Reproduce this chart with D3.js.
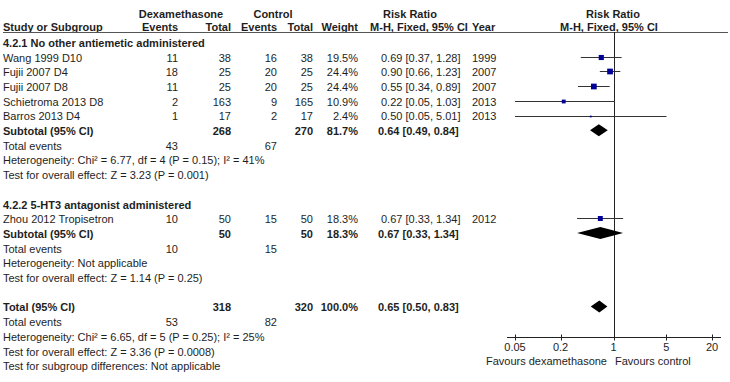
<!DOCTYPE html>
<html>
<head>
<meta charset="utf-8">
<script src="https://cdn.jsdelivr.net/npm/d3@7"></script>
<style>
  body { margin: 0; background: #fff; }
  text { font-family: "Liberation Sans", Arial, sans-serif; font-size: 11px; fill: #1e1e1e; }
  .b { font-weight: bold; }
</style>
</head>
<body>
<div id="chart"></div>
<script>
// study data
var studies    = ["Wang 1999 D10", "Fujii 2007 D4", "Fujii 2007 D8", "Schietroma 2013 D8", "Barros 2013 D4", "Zhou 2012 Tropisetron"];
var dexEvents  = [11, 18, 11, 2, 1, 10];
var dexTotal   = [38, 25, 25, 163, 17, 50];
var ctlEvents  = [16, 20, 20, 9, 2, 15];
var ctlTotal   = [38, 25, 25, 165, 17, 50];
var weights    = [19.5, 24.4, 24.4, 10.9, 2.4, 18.3];
var rr         = [0.69, 0.90, 0.55, 0.22, 0.50, 0.67];
var rrLo       = [0.37, 0.66, 0.34, 0.05, 0.05, 0.33];
var rrHi       = [1.28, 1.23, 0.89, 1.03, 5.01, 1.34];
var years      = [1999, 2007, 2007, 2013, 2013, 2012];
var groupOf    = [0, 0, 0, 0, 0, 1];

// subgroups
var groupTitles   = ["4.2.1 No other antiemetic administered", "4.2.2 5-HT3 antagonist administered"];
var groupDexTotal = [268, 50];
var groupCtlTotal = [270, 50];
var groupWeight   = ["81.7%", "18.3%"];
var groupRR       = [0.64, 0.67];
var groupLo       = [0.49, 0.33];
var groupHi       = [0.84, 1.34];
var groupDexEv    = [43, 10];
var groupCtlEv    = [67, 15];
var groupHet      = ["Heterogeneity: Chi\u00b2 = 6.77, df = 4 (P = 0.15); I\u00b2 = 41%", "Heterogeneity: Not applicable"];
var groupTest     = ["Test for overall effect: Z = 3.23 (P = 0.001)", "Test for overall effect: Z = 1.14 (P = 0.25)"];

// overall
var totalRR = 0.65, totalLo = 0.50, totalHi = 0.83;
var totalDex = 318, totalCtl = 320, totalDexEv = 53, totalCtlEv = 82;
var totalHet = "Heterogeneity: Chi\u00b2 = 6.65, df = 5 (P = 0.25); I\u00b2 = 25%";
var totalTest = "Test for overall effect: Z = 3.36 (P = 0.0008)";
var subgroupTest = "Test for subgroup differences: Not applicable";

var axisTicks = [0.05, 0.2, 1, 5, 20];

var width = 730, height = 382;
var svg = d3.select("#chart").append("svg").attr("width", width).attr("height", height);

// column anchors
var col = { name: 3, dexEv: 178, dexTot: 231, ctlEv: 277, ctlTot: 313, weight: 358, ci: 381, year: 472 };

// row positions (row index -> y)
var pitch = 14.7;
var y = function (i) { return 43 + i * pitch; };

var x = d3.scaleLog().domain([0.05, 20]).range([515, 712]);
var boxSize = d3.scaleSqrt().domain([0, 25]).range([0, 5.8]);

function fmt(v) { return v.toFixed(2); }
function ciText(m, l, h) { return fmt(m) + " [" + fmt(l) + ", " + fmt(h) + "]"; }

function txt(xp, yp, s, anchor, bold) {
    return svg.append("text")
        .attr("x", xp).attr("y", yp)
        .attr("dy", "0.35em")
        .attr("text-anchor", anchor || "start")
        .attr("class", bold ? "b" : null)
        .text(s);
}

function diamond(yp, m, l, h) {
    var hh = 6;
    svg.append("path")
        .attr("d", "M" + x(l) + "," + yp + "L" + x(m) + "," + (yp - hh) + "L" + x(h) + "," + yp + "L" + x(m) + "," + (yp + hh) + "Z")
        .style("fill", "#000");
}

// header
txt(181, 14, "Dexamethasone", "middle", true);
txt(273, 14, "Control", "middle", true);
txt(410, 14, "Risk Ratio", "middle", true);
txt(613, 14, "Risk Ratio", "middle", true);
txt(col.name, 27, "Study or Subgroup", "start", true);
txt(col.dexEv, 27, "Events", "end", true);
txt(col.dexTot, 27, "Total", "end", true);
txt(col.ctlEv, 27, "Events", "end", true);
txt(col.ctlTot, 27, "Total", "end", true);
txt(col.weight, 27, "Weight", "end", true);
txt(419, 27, "M-H, Fixed, 95% CI", "middle", true);
txt(col.year, 27, "Year", "start", true);
txt(609, 27, "M-H, Fixed, 95% CI", "middle", true);

svg.append("line")
    .attr("x1", 3).attr("x2", 728).attr("y1", 32.5).attr("y2", 32.5)
    .style("stroke", "#555").style("stroke-width", 1);

// line of no effect
svg.append("line")
    .attr("x1", Math.round(x(1)) + 0.5).attr("x2", Math.round(x(1)) + 0.5)
    .attr("y1", 32).attr("y2", 337)
    .style("stroke", "#222").style("stroke-width", 1);

// build the rows for each subgroup
var row = -1;
groupTitles.forEach(function (title, g) {
    if (g > 0) row += 1;   // blank row between subgroups
    row += 1;
    txt(col.name, y(row), title, "start", true);
    studies.forEach(function (s, i) {
        if (groupOf[i] != g) return;
        row += 1;
        var yy = y(row);
        txt(col.name, yy, s);
        txt(col.dexEv, yy, dexEvents[i], "end");
        txt(col.dexTot, yy, dexTotal[i], "end");
        txt(col.ctlEv, yy, ctlEvents[i], "end");
        txt(col.ctlTot, yy, ctlTotal[i], "end");
        txt(col.weight, yy, weights[i].toFixed(1) + "%", "end");
        txt(col.ci, yy, ciText(rr[i], rrLo[i], rrHi[i]));
        txt(col.year, yy, years[i]);

        var ym = Math.round(yy - 1) + 0.5;
        svg.append("line")
            .attr("x1", x(rrLo[i])).attr("x2", x(rrHi[i]))
            .attr("y1", ym).attr("y2", ym)
            .style("stroke", "#333").style("stroke-width", 1);
        var bs = boxSize(weights[i]);
        svg.append("rect")
            .attr("x", x(rr[i]) - bs / 2).attr("y", ym - bs / 2)
            .attr("width", bs).attr("height", bs)
            .style("fill", "#000099");
    });
    row += 1;
    var ys = y(row);
    txt(col.name, ys, "Subtotal (95% CI)", "start", true);
    txt(col.dexTot, ys, groupDexTotal[g], "end", true);
    txt(col.ctlTot, ys, groupCtlTotal[g], "end", true);
    txt(col.weight, ys, groupWeight[g], "end", true);
    txt(col.ci - 3, ys, ciText(groupRR[g], groupLo[g], groupHi[g]), "start", true);
    diamond(ys - 1, groupRR[g], groupLo[g], groupHi[g]);
    row += 1;
    txt(col.name, y(row), "Total events");
    txt(col.dexEv, y(row), groupDexEv[g], "end");
    txt(col.ctlEv, y(row), groupCtlEv[g], "end");
    row += 1;
    txt(col.name, y(row), groupHet[g]);
    row += 1;
    txt(col.name, y(row), groupTest[g]);
});

// overall
row += 2;
var yt = y(row);
txt(col.name, yt, "Total (95% CI)", "start", true);
txt(col.dexTot, yt, totalDex, "end", true);
txt(col.ctlTot, yt, totalCtl, "end", true);
txt(col.weight, yt, "100.0%", "end", true);
txt(col.ci - 3, yt, ciText(totalRR, totalLo, totalHi), "start", true);
diamond(yt - 1, totalRR, totalLo, totalHi);
row += 1;
txt(col.name, y(row), "Total events");
txt(col.dexEv, y(row), totalDexEv, "end");
txt(col.ctlEv, y(row), totalCtlEv, "end");
row += 1;
txt(col.name, y(row), totalHet);
row += 1;
txt(col.name, y(row), totalTest);
row += 1;
txt(col.name, y(row), subgroupTest);

// axis
var axisY = 337.5;
var axis = svg.append("g").attr("transform", "translate(0," + axisY + ")");
axis.append("line")
    .attr("x1", x(0.05) - 8).attr("x2", x(20) + 9)
    .style("stroke", "#222");
axis.selectAll(".tk")
    .data(axisTicks)
    .enter()
    .append("line")
    .attr("x1", function (d) { return Math.round(x(d)) + 0.5; })
    .attr("x2", function (d) { return Math.round(x(d)) + 0.5; })
    .attr("y1", -3).attr("y2", 3)
    .style("stroke", "#222");
axis.selectAll(".tl")
    .data(axisTicks)
    .enter()
    .append("text")
    .attr("x", function (d) { return x(d); })
    .attr("y", 10)
    .attr("dy", "0.35em")
    .attr("text-anchor", "middle")
    .text(function (d) { return d; });

txt(607, 361, "Favours dexamethasone", "end");
txt(615, 361, "Favours control", "start");
</script>
</body>
</html>
